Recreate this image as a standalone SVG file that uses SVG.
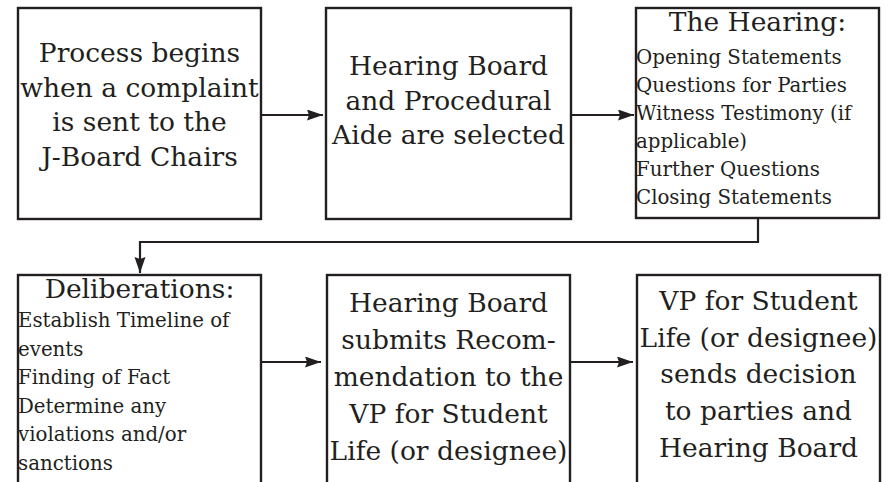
<svg xmlns="http://www.w3.org/2000/svg" width="888" height="482" viewBox="0 0 888 482">
  <style>
    .box { fill: #ffffff; stroke: #231f20; stroke-width: 2.4; }
    .big { font-family: "DejaVu Serif", "Liberation Serif", serif; font-size: 26.5px; fill: #231f20; text-anchor: middle; }
    .small { font-family: "DejaVu Serif", "Liberation Serif", serif; font-size: 19.8px; fill: #231f20; }
    .link { fill: none; stroke: #231f20; stroke-width: 2.2; marker-end: url(#head); }
  </style>
  <defs>
    <marker id="head" markerUnits="userSpaceOnUse" markerWidth="17" markerHeight="12" refX="16" refY="5.5" orient="auto">
      <path d="M0,0 L16,5.5 L0,11 L2,5.5 z" fill="#231f20"/>
    </marker>
  </defs>
  <rect width="888" height="482" fill="#ffffff"/>

  <!-- step 1 -->
  <g id="complaint">
    <rect class="box" x="18" y="8" width="243" height="211"/>
    <text class="big" x="139.5" y="62">Process begins</text>
    <text class="big" x="139.5" y="96.5">when a complaint</text>
    <text class="big" x="139.5" y="131">is sent to the</text>
    <text class="big" x="139.5" y="165.5">J-Board Chairs</text>
  </g>

  <!-- step 2 -->
  <g id="selection">
    <rect class="box" x="326" y="8" width="245" height="211"/>
    <text class="big" x="448.5" y="75">Hearing Board</text>
    <text class="big" x="448.5" y="109.5">and Procedural</text>
    <text class="big" x="448.5" y="144">Aide are selected</text>
  </g>

  <!-- step 3 -->
  <g id="hearing">
    <rect class="box" x="636" y="8" width="243" height="210"/>
    <text class="big" x="757.5" y="31">The Hearing:</text>
    <text class="small" x="636" y="64">Opening Statements</text>
    <text class="small" x="636" y="92">Questions for Parties</text>
    <text class="small" x="636" y="120">Witness Testimony (if</text>
    <text class="small" x="636" y="148">applicable)</text>
    <text class="small" x="636" y="176">Further Questions</text>
    <text class="small" x="636" y="204">Closing Statements</text>
  </g>

  <!-- step 4 -->
  <g id="deliberations">
    <rect class="box" x="18" y="275" width="243" height="220"/>
    <text class="big" x="139.5" y="298">Deliberations:</text>
    <text class="small" x="18" y="327">Establish Timeline of</text>
    <text class="small" x="18" y="355.5">events</text>
    <text class="small" x="18" y="384">Finding of Fact</text>
    <text class="small" x="18" y="412.5">Determine any</text>
    <text class="small" x="18" y="441">violations and/or</text>
    <text class="small" x="18" y="469.5">sanctions</text>
  </g>

  <!-- step 5 -->
  <g id="recommendation">
    <rect class="box" x="327" y="275" width="243" height="220"/>
    <text class="big" x="448.5" y="311.5">Hearing Board</text>
    <text class="big" x="448.5" y="348.5">submits Recom-</text>
    <text class="big" x="448.5" y="385.5">mendation to the</text>
    <text class="big" x="448.5" y="422.5">VP for Student</text>
    <text class="big" x="448.5" y="459.5">Life (or designee)</text>
  </g>

  <!-- step 6 -->
  <g id="decision">
    <rect class="box" x="637" y="275" width="243" height="220"/>
    <text class="big" x="758.5" y="310">VP for Student</text>
    <text class="big" x="758.5" y="346.7">Life (or designee)</text>
    <text class="big" x="758.5" y="383.4">sends decision</text>
    <text class="big" x="758.5" y="420.1">to parties and</text>
    <text class="big" x="758.5" y="456.8">Hearing Board</text>
  </g>

  <!-- connectors -->
  <g id="connectors">
    <line class="link" x1="262" y1="115" x2="323" y2="115"/>
    <line class="link" x1="572" y1="115" x2="634" y2="115"/>
    <path class="link" d="M758,219 V242 H140 V273"/>
    <line class="link" x1="262" y1="362" x2="321" y2="362"/>
    <line class="link" x1="571" y1="362" x2="633" y2="362"/>
  </g>
</svg>
